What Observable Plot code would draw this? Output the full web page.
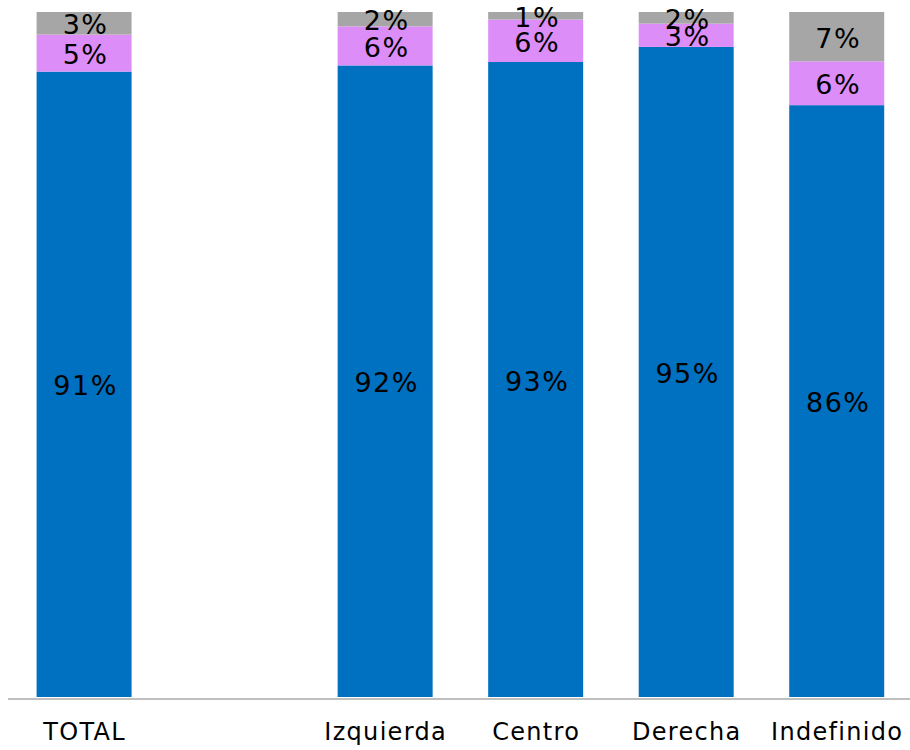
<!DOCTYPE html>
<html>
<head>
<meta charset="utf-8">
<script src="https://cdn.jsdelivr.net/npm/d3@7"></script>
<script src="https://cdn.jsdelivr.net/npm/@observablehq/plot@0.6"></script>
<style>
  html, body { margin: 0; padding: 0; background: #fff; }
  #chart svg { display: block; }
  #chart svg g[aria-label="x-axis tick label"] text { letter-spacing: 1.3px; }
  #chart svg g[aria-label="text"] text { letter-spacing: 1.5px; }
</style>
</head>
<body>
<div id="chart"></div>
<script>
const categories = ["TOTAL", " ", "Izquierda", "Centro", "Derecha", "Indefinido"];
const barCategories = ["TOTAL", "Izquierda", "Centro", "Derecha", "Indefinido"];
const seriesNames = ["A", "B", "C"];
// values (labels show rounded values)
const seriesA = [91.3, 92.2, 92.7, 94.9, 86.4];
const seriesB = [5.4, 5.7, 6.2, 3.4, 6.4];
const seriesC = [3.3, 2.1, 1.1, 1.7, 7.2];
const colors = ["#0070C0", "#DD8DF8", "#A6A6A6"];

const seriesValues = [seriesA, seriesB, seriesC];
const rows = [];
seriesNames.forEach((s, si) => {
  barCategories.forEach((c, ci) => {
    rows.push({cat: c, series: s, value: seriesValues[si][ci]});
  });
});

const chart = Plot.plot({
  width: 910,
  height: 750,
  marginLeft: 8,
  marginRight: 0,
  marginTop: 12,
  marginBottom: 53,
  style: {fontFamily: "DejaVu Sans", background: "#fff"},
  x: {domain: categories, range: [9.5, 911.3], round: false, paddingInner: 0.369, paddingOuter: 0.18, label: null},
  y: {axis: null, domain: [0, 1]},
  color: {domain: seriesNames, range: colors},
  marks: [
    Plot.barY(rows, Plot.stackY({offset: "normalize", order: null}, {x: "cat", y: "value", fill: "series"})),
    Plot.text(rows, Plot.stackY({offset: "normalize", order: null}, {x: "cat", y: "value", text: d => Math.round(d.value) + "%", fontSize: 27, dy: 2, dx: 1, fill: "#000"})),
    Plot.ruleY([0], {stroke: "#BFBFBF", strokeWidth: 2, dy: 1.5}),
    Plot.axisX({tickSize: 0, tickPadding: 25, fontSize: 24, color: "#000", label: null})
  ]
});
document.getElementById("chart").appendChild(chart);
</script>
</body>
</html>
